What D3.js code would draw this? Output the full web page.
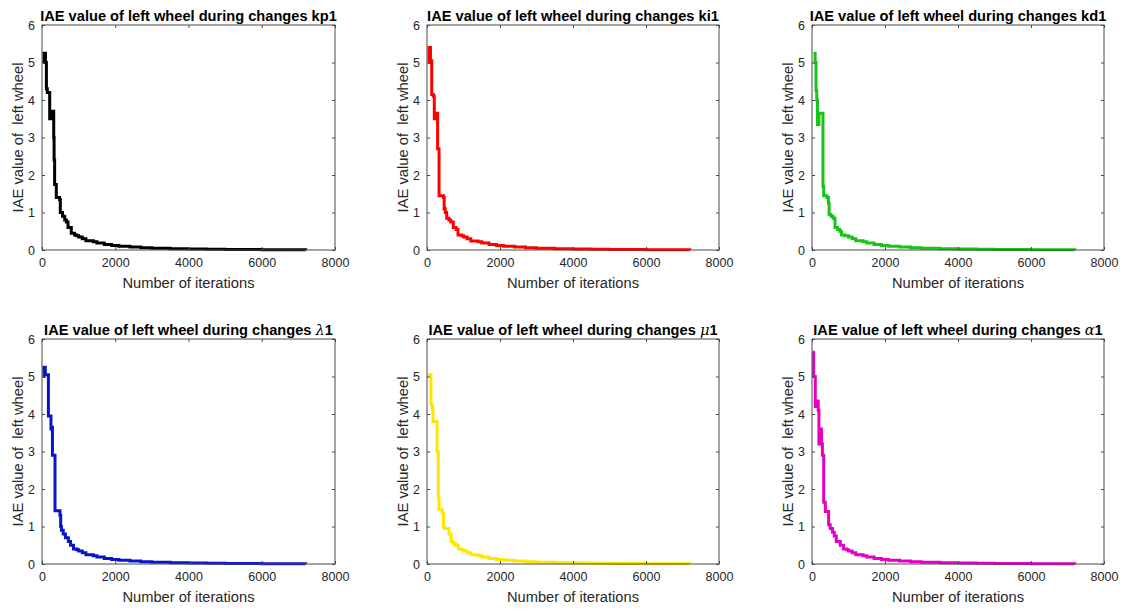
<!DOCTYPE html>
<html>
<head>
<meta charset="utf-8">
<script src="https://cdn.jsdelivr.net/npm/d3@7"></script>
<style>
  body { margin: 0; background: #fff; }
  svg { display: block; font-family: "Liberation Sans", Arial, sans-serif; }
</style>
</head>
<body>
<svg id="chart" width="1121" height="609"></svg>
<script>
// ---- Data ----
const xTicks = [0, 2000, 4000, 6000, 8000];
const yTicks = [0, 1, 2, 3, 4, 5, 6];
const titlePrefix = "IAE value of left wheel during changes ";
const yLabel = "IAE value of  left wheel";
const xLabel = "Number of iterations";

const tailIter = [1000, 1100, 1200, 1400, 1500, 1700, 1900, 2100, 2400, 2700, 3000, 3500, 4000, 4500, 5000, 6000, 7200];

const kp1Iter  = [30, 55, 95, 120, 145, 210, 255, 320, 330, 345, 390, 480, 500, 560, 620, 665, 710, 800, 890, 950];
const kp1Value = [5.0, 5.25, 5.0, 4.3, 4.2, 3.5, 3.7, 3.0, 2.4, 1.75, 1.4, 1.35, 1.0, 0.9, 0.8, 0.75, 0.6, 0.45, 0.4, 0.38];
const kp1Tail  = [0.35, 0.3, 0.25, 0.22, 0.19, 0.15, 0.12, 0.1, 0.08, 0.06, 0.045, 0.035, 0.025, 0.02, 0.015, 0.01, 0.008];

const ki1Iter  = [40, 55, 95, 130, 175, 200, 220, 290, 330, 450, 470, 500, 540, 600, 650, 720, 800, 850, 950];
const ki1Value = [5.0, 5.4, 5.05, 4.15, 4.1, 3.5, 3.65, 2.7, 1.45, 1.4, 1.1, 1.0, 0.85, 0.8, 0.75, 0.6, 0.55, 0.4, 0.38];
const ki1Tail  = [0.35, 0.3, 0.24, 0.22, 0.19, 0.15, 0.12, 0.1, 0.08, 0.06, 0.045, 0.035, 0.025, 0.02, 0.015, 0.01, 0.008];

const kd1Iter  = [40, 85, 110, 130, 150, 190, 300, 320, 410, 450, 470, 520, 580, 630, 700, 760, 810, 900];
const kd1Value = [5.25, 5.0, 4.25, 4.0, 3.35, 3.65, 1.7, 1.45, 1.4, 1.25, 0.95, 0.9, 0.85, 0.6, 0.55, 0.5, 0.4, 0.38];
const kd1Tail  = [0.35, 0.3, 0.25, 0.22, 0.19, 0.15, 0.12, 0.1, 0.08, 0.06, 0.045, 0.035, 0.025, 0.02, 0.015, 0.01, 0.008];

const lam1Iter  = [30, 55, 90, 175, 245, 265, 285, 355, 490, 510, 530, 580, 640, 720, 780, 860, 950];
const lam1Value = [5.0, 5.25, 5.05, 3.95, 3.6, 3.65, 2.9, 1.42, 1.3, 1.0, 0.9, 0.8, 0.7, 0.6, 0.5, 0.4, 0.38];
const lam1Tail  = [0.35, 0.3, 0.25, 0.22, 0.19, 0.15, 0.12, 0.1, 0.08, 0.06, 0.045, 0.035, 0.025, 0.02, 0.015, 0.01, 0.008];

const mu1Iter  = [30, 110, 145, 165, 275, 310, 330, 420, 450, 475, 600, 660, 720, 780, 860, 950];
const mu1Value = [5.05, 4.25, 4.15, 3.8, 3.0, 1.8, 1.45, 1.35, 1.0, 0.95, 0.8, 0.6, 0.55, 0.5, 0.4, 0.38];
const mu1Tail  = [0.35, 0.3, 0.25, 0.22, 0.19, 0.15, 0.12, 0.1, 0.08, 0.06, 0.045, 0.035, 0.025, 0.02, 0.015, 0.01, 0.008];

const alpha1Iter  = [20, 45, 90, 135, 170, 190, 230, 260, 285, 320, 365, 455, 500, 560, 610, 665, 775, 865, 950];
const alpha1Value = [5.65, 5.0, 4.2, 4.35, 4.1, 3.2, 3.6, 3.2, 2.9, 1.65, 1.4, 1.05, 0.95, 0.85, 0.75, 0.6, 0.5, 0.4, 0.38];
const alpha1Tail  = [0.35, 0.3, 0.25, 0.22, 0.19, 0.15, 0.12, 0.1, 0.08, 0.06, 0.045, 0.035, 0.025, 0.02, 0.015, 0.01, 0.008];

const panels = [
  { label: "kp1", symbol: null, color: "#000000", iter: kp1Iter, value: kp1Value, tail: kp1Tail, row: 0, col: 0 },
  { label: "ki1", symbol: null, color: "#ff0000", iter: ki1Iter, value: ki1Value, tail: ki1Tail, row: 0, col: 1 },
  { label: "kd1", symbol: null, color: "#17c417", iter: kd1Iter, value: kd1Value, tail: kd1Tail, row: 0, col: 2 },
  { label: "1", symbol: "\u03BB", color: "#0a14c8", iter: lam1Iter, value: lam1Value, tail: lam1Tail, row: 1, col: 0 },
  { label: "1", symbol: "\u03BC", color: "#ffe600", iter: mu1Iter, value: mu1Value, tail: mu1Tail, row: 1, col: 1 },
  { label: "1", symbol: "\u03B1", color: "#e600c3", iter: alpha1Iter, value: alpha1Value, tail: alpha1Tail, row: 1, col: 2 }
];

// ---- Layout ----
const colX = [[42, 335], [427, 719], [812, 1104]];
const rowY = [[25, 250], [339, 564]];
const axisColor = "#4a4a4a";
const textColor = "#262626";

const svg = d3.select("#chart");

// font size fitting helper: find size that makes text reach target width
function fitSize(text, weight, target) {
  const probe = svg.append("text").style("font-size", "20px").style("font-weight", weight)
    .style("white-space", "pre").text(text);
  const w = probe.node().getComputedTextLength();
  probe.remove();
  return 20 * target / w;
}
const titleSize = fitSize("IAE value of left wheel during changes kp1", "bold", 297);
const xLabelSize = fitSize(xLabel, "normal", 132);
const yLabelSize = fitSize(yLabel, "normal", 150);

panels.forEach(p => {
  const [x0, x1] = colX[p.col];
  const [y0, y1] = rowY[p.row];
  const x = d3.scaleLinear().domain([0, 8000]).range([x0, x1]);
  const y = d3.scaleLinear().domain([0, 6]).range([y1, y0]);
  const g = svg.append("g");

  const pts = p.iter.map((d, i) => [d, p.value[i]])
    .concat(tailIter.map((d, i) => [d, p.tail[i]]));

  const line = d3.line().x(d => x(d[0])).y(d => y(d[1])).curve(d3.curveStepAfter);
  g.append("path").datum(pts)
    .attr("d", line)
    .attr("fill", "none")
    .attr("stroke", p.color)
    .attr("stroke-width", 3)
    .attr("stroke-linejoin", "miter");

  const styleAxis = sel => {
    sel.select(".domain").remove();
    sel.selectAll(".tick line").attr("stroke", axisColor);
    sel.selectAll(".tick text").attr("fill", textColor).style("font-size", "12.5px")
      .style("font-family", "'Liberation Sans', Arial, sans-serif");
  };
  g.append("g").attr("transform", `translate(0,${y1})`)
    .call(d3.axisBottom(x).tickValues(xTicks).tickSize(-3).tickPadding(8).tickFormat(d3.format("d")))
    .call(styleAxis);
  g.append("g").attr("transform", `translate(0,${y0})`)
    .call(d3.axisTop(x).tickValues(xTicks).tickSize(-3).tickFormat(""))
    .call(styleAxis);
  g.append("g").attr("transform", `translate(${x0},0)`)
    .call(d3.axisLeft(y).tickValues(yTicks).tickSize(-3).tickPadding(7).tickFormat(d3.format("d")))
    .call(styleAxis);
  g.append("g").attr("transform", `translate(${x1},0)`)
    .call(d3.axisRight(y).tickValues(yTicks).tickSize(-3).tickFormat(""))
    .call(styleAxis);

  g.append("rect")
    .attr("x", x0).attr("y", y0)
    .attr("width", x1 - x0).attr("height", y1 - y0)
    .attr("fill", "none").attr("stroke", axisColor).attr("stroke-width", 1);

  const t = g.append("text")
    .attr("x", (x0 + x1) / 2).attr("y", y0 - 4)
    .attr("text-anchor", "middle")
    .style("font-size", titleSize + "px").style("font-weight", "bold")
    .attr("fill", "#000");
  t.append("tspan").text(titlePrefix);
  if (p.symbol) {
    t.append("tspan").text(p.symbol)
      .style("font-family", "'DejaVu Serif', serif")
      .style("font-style", "italic").style("font-weight", "normal");
  }
  t.append("tspan").text(p.label);

  g.append("text")
    .attr("x", (x0 + x1) / 2).attr("y", y1 + 38)
    .attr("text-anchor", "middle")
    .style("font-size", xLabelSize + "px")
    .attr("fill", textColor)
    .text(xLabel);

  g.append("text")
    .attr("transform", `translate(${x0 - 19},${(y0 + y1) / 2}) rotate(-90)`)
    .attr("text-anchor", "middle")
    .style("font-size", yLabelSize + "px")
    .style("white-space", "pre")
    .attr("fill", textColor)
    .text(yLabel);
});
</script>
</body>
</html>
